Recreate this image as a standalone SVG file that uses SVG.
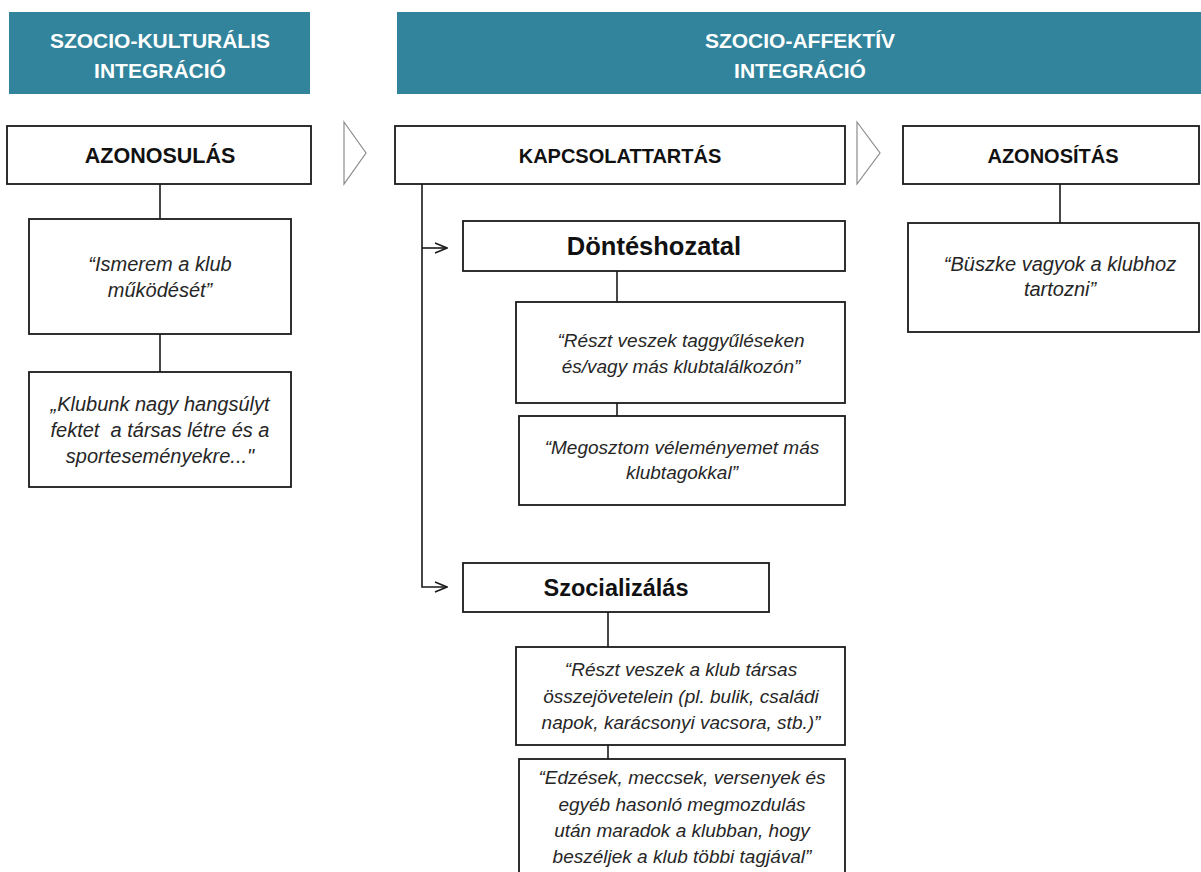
<svg xmlns="http://www.w3.org/2000/svg" width="1201" height="872" viewBox="0 0 1201 872">
<style>
.hdr{fill:#31849B}
.htxt{font-family:"Liberation Sans",Arial,sans-serif;font-weight:bold;font-size:21px;fill:#ffffff;text-anchor:middle}
.box{fill:#ffffff;stroke:#1a1a1a;stroke-width:1.8}
.btxt{font-family:"Liberation Sans",Arial,sans-serif;font-weight:bold;font-size:20px;fill:#111111;text-anchor:middle}
.itxt{font-family:"Liberation Sans",Arial,sans-serif;font-style:italic;font-size:19px;fill:#262626;text-anchor:middle}
.conn{fill:none;stroke:#1a1a1a;stroke-width:1.6}
.chev{fill:#ffffff;stroke:#8c8c8c;stroke-width:1.2}
</style>
<defs>
<marker id="open" viewBox="0 0 14 12" refX="13" refY="6" markerWidth="14" markerHeight="12" markerUnits="userSpaceOnUse" orient="auto">
<path d="M1,1 L13,6 L1,11" fill="none" stroke="#1a1a1a" stroke-width="1.6"/>
</marker>
</defs>
<rect width="1201" height="872" fill="#ffffff"/>

<g id="header-kulturalis">
<rect class="hdr" x="9" y="12" width="301" height="82"/>
<text class="htxt" x="160" y="48">SZOCIO-KULTURÁLIS</text>
<text class="htxt" x="160" y="78">INTEGRÁCIÓ</text>
</g>
<g id="header-affektiv">
<rect class="hdr" x="397" y="12" width="804" height="82"/>
<text class="htxt" x="800" y="48">SZOCIO-AFFEKTÍV</text>
<text class="htxt" x="800" y="78">INTEGRÁCIÓ</text>
</g>

<g id="connectors">
<path class="conn" d="M160,184 V219"/>
<path class="conn" d="M160,334 V372"/>
<path class="conn" d="M422,184 V587 H447" marker-end="url(#open)"/>
<path class="conn" d="M422,248 H447" marker-end="url(#open)"/>
<path class="conn" d="M617,271 V302"/>
<path class="conn" d="M617,403 V416"/>
<path class="conn" d="M608,612 V647"/>
<path class="conn" d="M608,745 V759"/>
<path class="conn" d="M1060,184 V223"/>
</g>

<g id="chevron-1"><polygon class="chev" points="344,122 366,153 344,184"/></g>
<g id="chevron-2"><polygon class="chev" points="857,122 880,153 857,184"/></g>

<g id="azonosulas">
<rect class="box" x="7" y="126" width="304" height="58"/>
<text class="btxt" x="160" y="163" style="font-size:21.5px">AZONOSULÁS</text>
</g>
<g id="ismerem">
<rect class="box" x="29" y="219" width="262" height="115"/>
<text class="itxt" x="160" y="271" style="font-size:20px">“Ismerem a klub</text>
<text class="itxt" x="160" y="297" style="font-size:20px">működését”</text>
</g>
<g id="klubunk">
<rect class="box" x="29" y="372" width="262" height="115"/>
<text class="itxt" x="160" y="411" style="font-size:20px">„Klubunk nagy hangsúlyt</text>
<text class="itxt" x="160" y="437" style="font-size:20px">fektet&#160; a társas létre és a</text>
<text class="itxt" x="160" y="463" style="font-size:20px">sporteseményekre..."</text>
</g>

<g id="kapcsolattartas">
<rect class="box" x="395" y="126" width="450" height="58"/>
<text class="btxt" x="620" y="163">KAPCSOLATTARTÁS</text>
</g>
<g id="donteshozatal">
<rect class="box" x="463" y="221" width="382" height="50"/>
<text class="btxt" x="654" y="255" style="font-size:25.5px">Döntéshozatal</text>
</g>
<g id="reszt-taggyules">
<rect class="box" x="516" y="302" width="329" height="101"/>
<text class="itxt" x="681" y="347">“Részt veszek taggyűléseken</text>
<text class="itxt" x="681" y="373">és/vagy más klubtalálkozón”</text>
</g>
<g id="megosztom">
<rect class="box" x="519" y="416" width="326" height="89"/>
<text class="itxt" x="682" y="454">“Megosztom véleményemet más</text>
<text class="itxt" x="682" y="479">klubtagokkal”</text>
</g>
<g id="szocializalas">
<rect class="box" x="463" y="563" width="306" height="49"/>
<text class="btxt" x="616" y="596" style="font-size:23.5px">Szocializálás</text>
</g>
<g id="reszt-tarsas">
<rect class="box" x="516" y="647" width="329" height="98"/>
<text class="itxt" x="681" y="676">“Részt veszek a klub társas</text>
<text class="itxt" x="681" y="703">összejövetelein (pl. bulik, családi</text>
<text class="itxt" x="681" y="729">napok, karácsonyi vacsora, stb.)”</text>
</g>
<g id="edzesek">
<rect class="box" x="519" y="759" width="326" height="130"/>
<text class="itxt" x="682" y="784">“Edzések, meccsek, versenyek és</text>
<text class="itxt" x="682" y="811">egyéb hasonló megmozdulás</text>
<text class="itxt" x="682" y="837">után maradok a klubban, hogy</text>
<text class="itxt" x="682" y="863">beszéljek a klub többi tagjával”</text>
</g>

<g id="azonositas">
<rect class="box" x="903" y="126" width="296" height="58"/>
<text class="btxt" x="1053" y="163">AZONOSÍTÁS</text>
</g>
<g id="buszke">
<rect class="box" x="908" y="223" width="291" height="109"/>
<text class="itxt" x="1060" y="271" style="font-size:20px">“Büszke vagyok a klubhoz</text>
<text class="itxt" x="1060" y="296" style="font-size:20px">tartozni”</text>
</g>
</svg>
